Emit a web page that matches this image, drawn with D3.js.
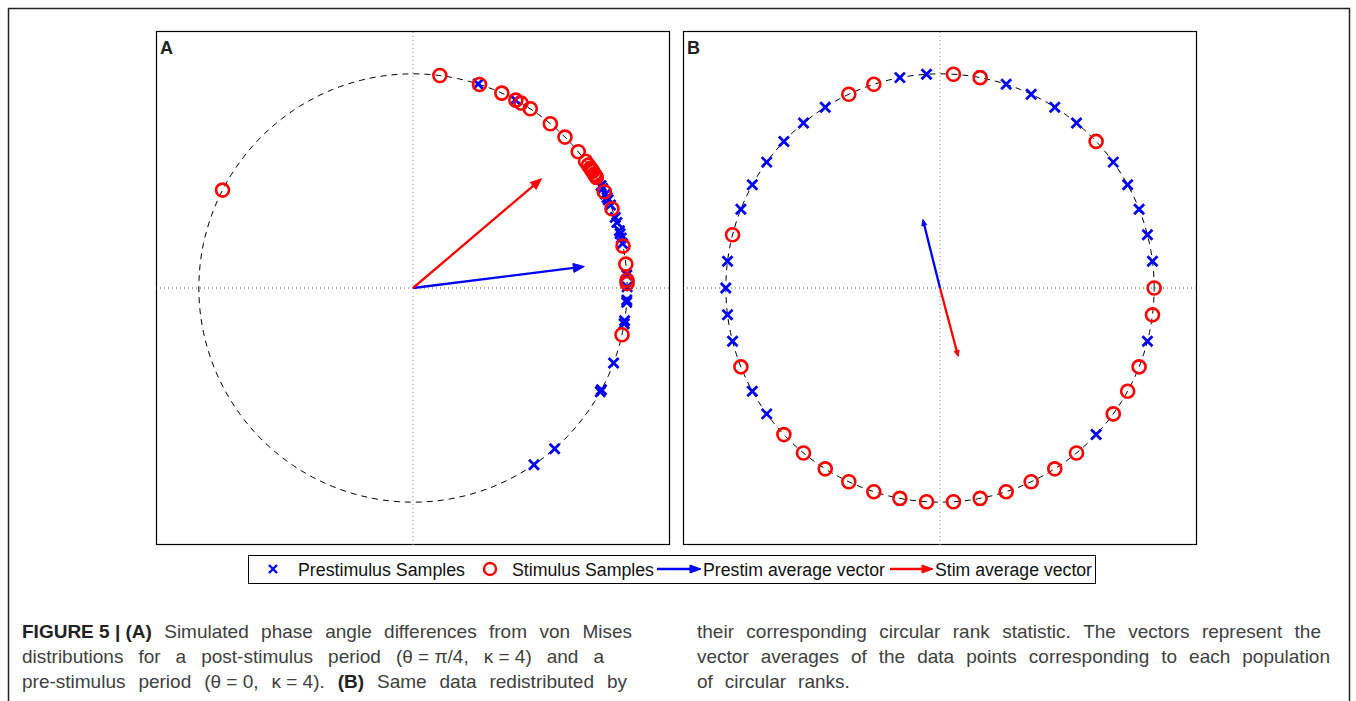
<!DOCTYPE html>
<html>
<head>
<meta charset="utf-8">
<script src="https://cdn.jsdelivr.net/npm/d3@7"></script>
<style>
  body { margin: 0; background: #fff; }
  svg { display: block; }
</style>
</head>
<body>
<div id="chart-container"></div>
<script>
// phase angles (degrees)
const preAngles = [-55.6, -48.6, -29.0, -28.4, -20.5, -9.6, -8.8, -3.8, -3.2, 0.3, 3.5,
  12.0, 13.5, 14.7, 15.5, 17.8, 19.2, 22.8, 24.3, 25.0, 26.0, 27.7, 28.6, 61.5, 72.3];
const stimAngles = [-12.6, 1.2, 2.1, 6.4, 11.3, 21.7, 26.7, 31.1, 31.7, 32.1, 33.0, 33.6, 34.0,
  35.0, 36.3, 39.5, 44.8, 50.1, 56.8, 59.7, 61.3, 65.5, 71.9, 82.8, 152.8];

// circular rank positions (out of 50) in panel B
const nRanks = 50;
const preRanks = [1, 2, 3, 4, 5, 7, 8, 9, 10, 13, 14, 17, 18, 19, 20, 21, 22, 24, 25, 26, 27, 29, 30, 44, 48];
const stimRanks = [0, 6, 11, 12, 15, 16, 23, 28, 31, 32, 33, 34, 35, 36, 37, 38, 39, 40, 41, 42, 43, 45, 46, 47, 49];

// average vectors (x, y)
const preVecA = [0.80, 0.10];
const stimVecA = [0.60, 0.51];
const preVecB = [-0.08, 0.32];
const stimVecB = [0.085, -0.32];

const legendLabels = ['Prestimulus Samples', 'Stimulus Samples', 'Prestim average vector', 'Stim average vector'];

const captionLeft = [
  [{t: 'FIGURE 5 | (A)', b: true}, 'Simulated', 'phase', 'angle', 'differences', 'from', 'von', 'Mises'],
  ['distributions', 'for', 'a', 'post-stimulus', 'period', '(\u03b8 = \u03c0/4,', '\u03ba = 4)', 'and', 'a'],
  ['pre-stimulus', 'period', '(\u03b8 = 0,', '\u03ba = 4).', {t: '(B)', b: true}, 'Same', 'data', 'redistributed', 'by']
];
const captionRight = [
  ['their', 'corresponding', 'circular', 'rank', 'statistic.', 'The', 'vectors', 'represent', 'the'],
  ['vector', 'averages', 'of', 'the', 'data', 'points', 'corresponding', 'to', 'each', 'population'],
  ['of', 'circular', 'ranks.']
];

const blue = '#0000ff';
const red = '#ff0000';
const font = '"Liberation Sans", Arial, Helvetica, sans-serif';

const svg = d3.select('#chart-container')
  .append('svg')
  .attr('width', 1356)
  .attr('height', 701);

// page frame
svg.append('rect')
  .attr('x', 8.5).attr('y', 8.5)
  .attr('width', 1341).attr('height', 720)
  .attr('fill', 'none')
  .attr('stroke', '#222')
  .attr('stroke-width', 1.5);

const toRad = d => d * Math.PI / 180;
const polar = a => [Math.cos(a), Math.sin(a)];

function arrowHead(g, x1, y1, x2, y2, len, half, color) {
  const dx = x2 - x1, dy = y2 - y1;
  const l = Math.hypot(dx, dy);
  const ux = dx / l, uy = dy / l;
  const bx = x2 - ux * len, by = y2 - uy * len;
  g.append('path')
    .attr('d', 'M' + x2 + ',' + y2 +
      'L' + (bx - uy * half) + ',' + (by + ux * half) +
      'L' + (bx + uy * half) + ',' + (by - ux * half) + 'Z')
    .attr('fill', color)
    .attr('stroke', color)
    .attr('stroke-width', 1)
    .attr('stroke-linejoin', 'round');
}

function panel(left, label, prePts, stimPts, preVec, stimVec, head) {
  const size = 514, top = 31;
  const x = d3.scaleLinear().domain([-1.2, 1.2]).range([left, left + size]);
  const y = d3.scaleLinear().domain([-1.2, 1.2]).range([top + size, top]);
  const g = svg.append('g');

  g.append('rect')
    .attr('x', left + 0.5).attr('y', top + 0.5)
    .attr('width', size - 1).attr('height', size - 1)
    .attr('fill', '#fff')
    .attr('stroke', '#000')
    .attr('stroke-width', 1.2);

  // dotted axes through the origin
  g.append('line')
    .attr('x1', x(-1.2)).attr('x2', x(1.2))
    .attr('y1', y(0)).attr('y2', y(0))
    .attr('stroke', '#555').attr('stroke-width', 1)
    .attr('stroke-dasharray', '1,3');
  g.append('line')
    .attr('x1', x(0)).attr('x2', x(0))
    .attr('y1', y(-1.2)).attr('y2', y(1.2))
    .attr('stroke', '#888').attr('stroke-width', 1)
    .attr('stroke-dasharray', '1,3');

  // unit circle
  const circ = d3.range(0, 361, 2).map(d => polar(toRad(d)));
  g.append('path')
    .datum(circ)
    .attr('d', d3.line().x(d => x(d[0])).y(d => y(d[1])))
    .attr('fill', 'none')
    .attr('stroke', '#000')
    .attr('stroke-width', 1)
    .attr('stroke-dasharray', '6,5');

  g.selectAll('.pre')
    .data(prePts)
    .enter()
    .append('path')
    .attr('class', 'pre')
    .attr('transform', d => 'translate(' + x(d[0]) + ',' + y(d[1]) + ')')
    .attr('d', 'M-5,-5L5,5M-5,5L5,-5')
    .attr('stroke', blue)
    .attr('stroke-width', 2.8)
    .attr('fill', 'none');

  g.selectAll('.stim')
    .data(stimPts)
    .enter()
    .append('circle')
    .attr('class', 'stim')
    .attr('cx', d => x(d[0]))
    .attr('cy', d => y(d[1]))
    .attr('r', 6.5)
    .attr('fill', 'none')
    .attr('stroke', red)
    .attr('stroke-width', 2.6);

  [[preVec, blue], [stimVec, red]].forEach(function(v) {
    const x1 = x(0), y1 = y(0), x2 = x(v[0][0]), y2 = y(v[0][1]);
    const dx = x2 - x1, dy = y2 - y1, l = Math.hypot(dx, dy);
    g.append('line')
      .attr('x1', x1).attr('y1', y1)
      .attr('x2', x2 - dx / l * head[0] * 0.6).attr('y2', y2 - dy / l * head[0] * 0.6)
      .attr('stroke', v[1])
      .attr('stroke-width', 2.3);
    arrowHead(g, x1, y1, x2, y2, head[0], head[1], v[1]);
  });

  g.append('text')
    .attr('x', left + 4).attr('y', top + 23)
    .attr('font-family', font)
    .attr('font-weight', 'bold')
    .attr('font-size', 18)
    .attr('fill', '#222')
    .text(label);
}

panel(156, 'A',
  preAngles.map(d => polar(toRad(d))),
  stimAngles.map(d => polar(toRad(d))),
  preVecA, stimVecA, [11, 4.5]);

panel(683, 'B',
  preRanks.map(r => polar(2 * Math.PI * r / nRanks)),
  stimRanks.map(r => polar(2 * Math.PI * r / nRanks)),
  preVecB, stimVecB, [6, 2.5]);

// legend
const leg = svg.append('g');
leg.append('rect')
  .attr('x', 248.5).attr('y', 555.5)
  .attr('width', 847).attr('height', 28)
  .attr('fill', '#fff')
  .attr('stroke', '#000')
  .attr('stroke-width', 1);

const legY = 569;
leg.append('path')
  .attr('transform', 'translate(273,' + legY + ')')
  .attr('d', 'M-4,-4L4,4M-4,4L4,-4')
  .attr('stroke', blue).attr('stroke-width', 2.4);
leg.append('circle')
  .attr('cx', 490).attr('cy', legY).attr('r', 6)
  .attr('fill', 'none').attr('stroke', red).attr('stroke-width', 2.4);

[[657, 701, blue], [890, 933, red]].forEach(function(a) {
  leg.append('line')
    .attr('x1', a[0]).attr('x2', a[1] - 8)
    .attr('y1', legY).attr('y2', legY)
    .attr('stroke', a[2]).attr('stroke-width', 2.4);
  arrowHead(leg, a[0], legY, a[1], legY, 11, 4, a[2]);
});

const legText = [[298, 167], [512, 142], [703, 182], [935, 157]];
leg.selectAll('.legtext')
  .data(legendLabels)
  .enter()
  .append('text')
  .attr('class', 'legtext')
  .attr('x', (d, i) => legText[i][0])
  .attr('y', 576)
  .attr('font-family', font)
  .attr('font-size', 18)
  .attr('textLength', (d, i) => legText[i][1])
  .attr('lengthAdjust', 'spacingAndGlyphs')
  .attr('fill', '#111')
  .text(d => d);

// caption, justified word by word
function caption(lines, x0, ends, gapLast) {
  lines.forEach(function(words, li) {
    const yy = 638 + li * 25;
    const nodes = words.map(function(w) {
      const bold = typeof w === 'object';
      return svg.append('text')
        .attr('y', yy)
        .attr('font-family', font)
        .attr('font-size', 19)
        .attr('font-weight', bold ? 'bold' : 'normal')
        .attr('fill', bold ? '#222' : '#404040')
        .text(bold ? w.t : w);
    });
    const widths = nodes.map(n => n.node().getComputedTextLength());
    const total = d3.sum(widths);
    const gap = ends[li] ? (ends[li] - x0 - total) / (words.length - 1) : gapLast;
    let cx = x0;
    nodes.forEach(function(n, i) {
      n.attr('x', cx);
      cx += widths[i] + gap;
    });
  });
}

caption(captionLeft, 22, [632, 604, 627], 0);
caption(captionRight, 697, [1321, 1330, null], 12);
</script>
</body>
</html>
